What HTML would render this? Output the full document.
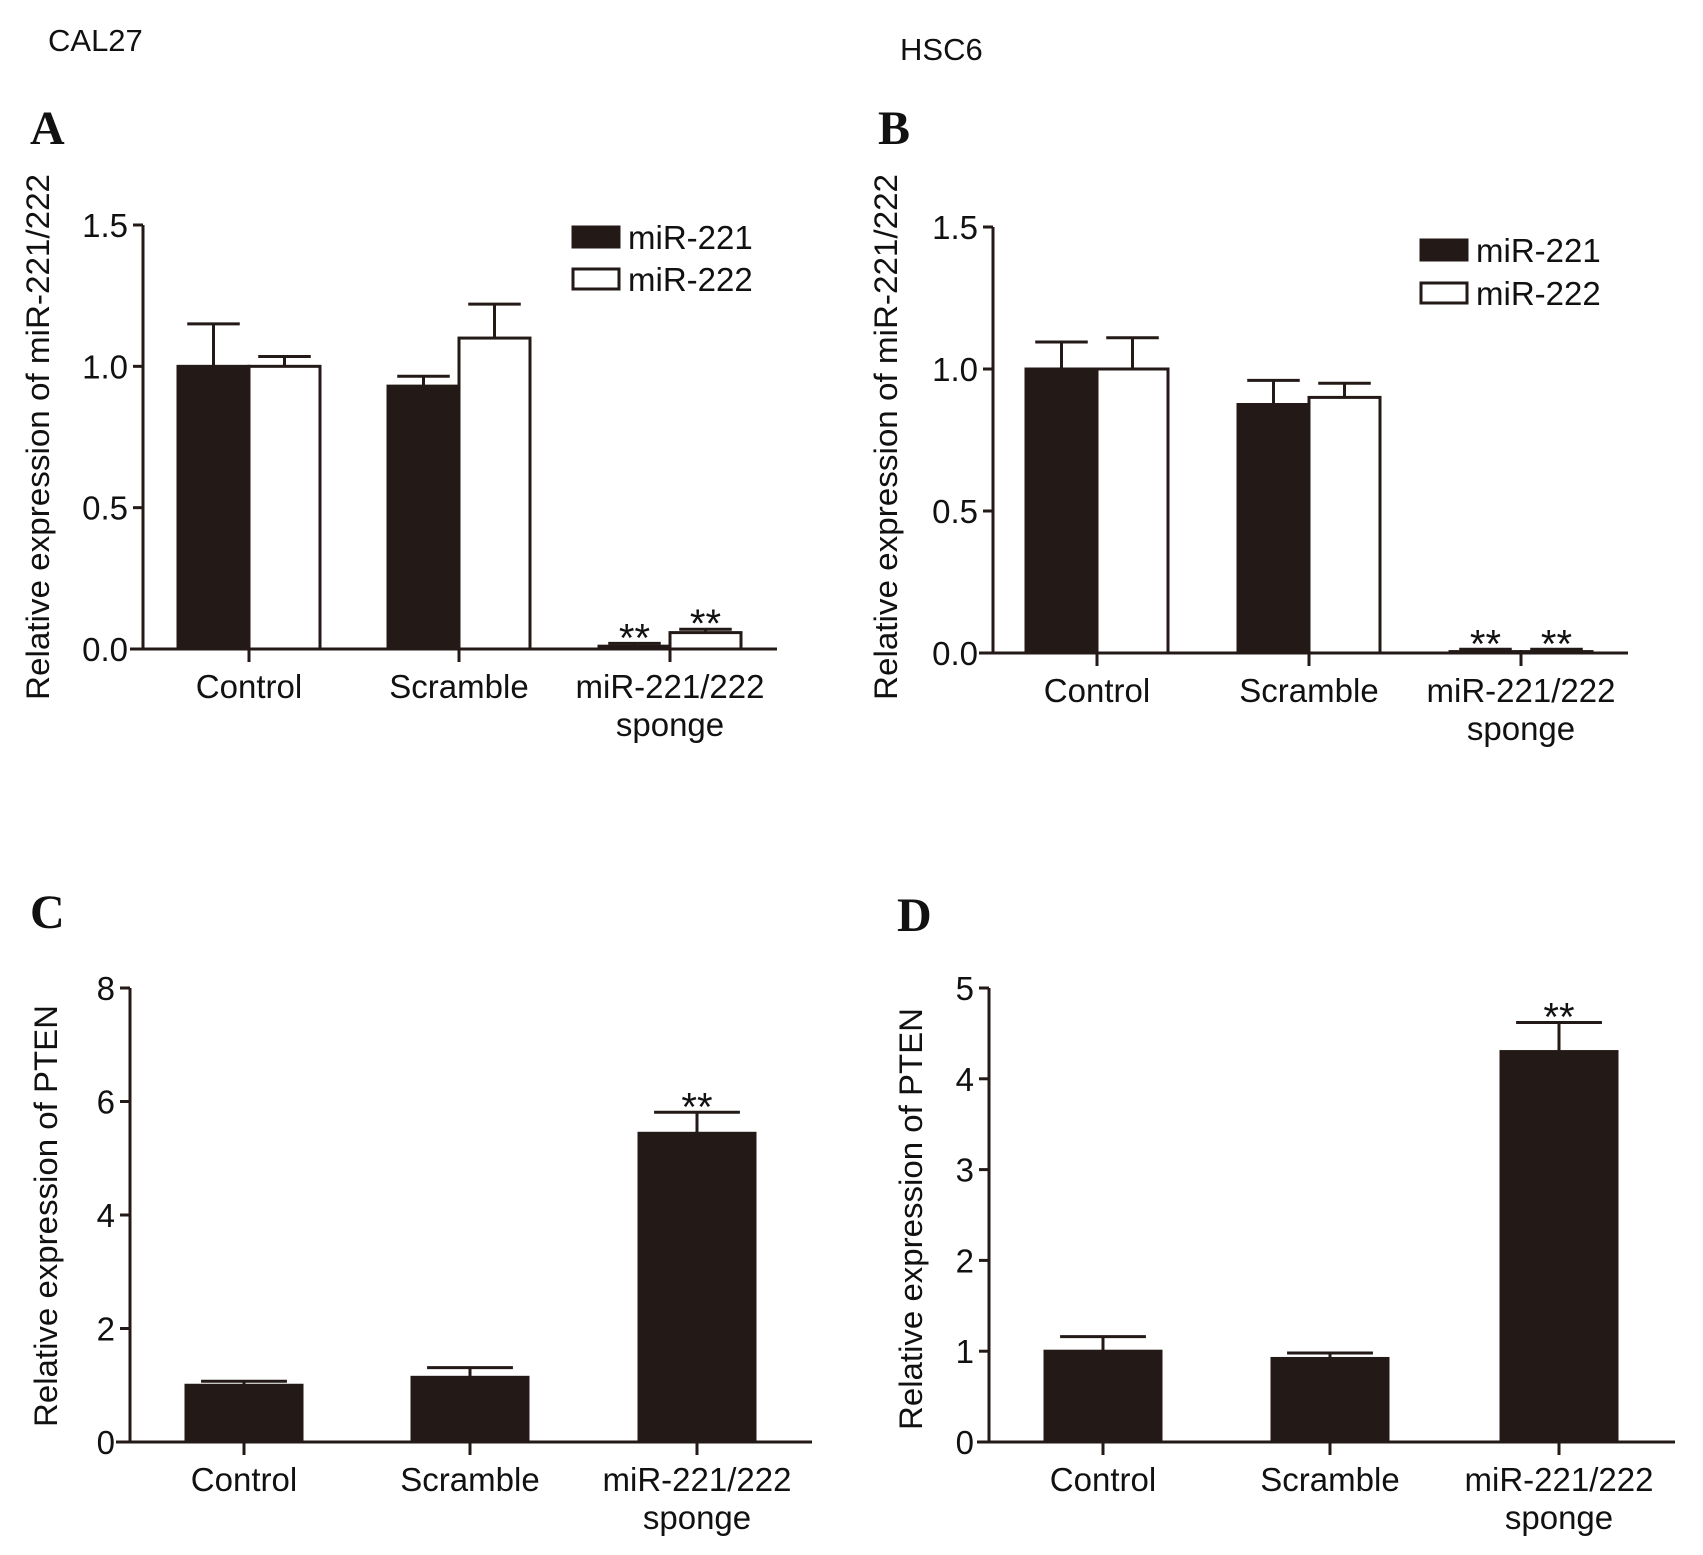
<!DOCTYPE html>
<html><head><meta charset="utf-8"><style>
html,body{margin:0;padding:0;background:#fff}
svg{display:block}
text{font-family:"Liberation Sans",Arial,sans-serif;fill:#111}
</style></head><body>
<svg id="fig" width="1703" height="1555" viewBox="0 0 1703 1555" xmlns="http://www.w3.org/2000/svg">
<text x="48" y="51" font-size="31">CAL27</text>
<text x="900" y="60" font-size="31">HSC6</text>
<text x="30" y="144" font-size="48" font-weight="bold" style="font-family:'Liberation Serif',serif">A</text>
<text x="878" y="144" font-size="48" font-weight="bold" style="font-family:'Liberation Serif',serif">B</text>
<text x="30" y="928" font-size="48" font-weight="bold" style="font-family:'Liberation Serif',serif">C</text>
<text x="897" y="931" font-size="48" font-weight="bold" style="font-family:'Liberation Serif',serif">D</text>
</svg>
<script>
const categories = ["Control", "Scramble", "miR-221/222|sponge"];
const seriesNames = ["miR-221", "miR-222"];
// Panel A (CAL27)
const a221 = [1.0, 0.93, 0.01];
const a221Err = [0.15, 0.035, 0.01];
const a222 = [1.0, 1.10, 0.058];
const a222Err = [0.035, 0.12, 0.012];
const aTicks = ["0.0", "0.5", "1.0", "1.5"];
const aTickVals = [0, 0.5, 1.0, 1.5];
const aSig = [false, false, true];
// Panel B (HSC6)
const b221 = [1.0, 0.875, 0.005];
const b221Err = [0.095, 0.085, 0.008];
const b222 = [1.0, 0.90, 0.005];
const b222Err = [0.11, 0.05, 0.008];
const bTicks = ["0.0", "0.5", "1.0", "1.5"];
const bTickVals = [0, 0.5, 1.0, 1.5];
const bSig = [false, false, true];
// Panel C (CAL27 PTEN)
const cVals = [1.0, 1.14, 5.44];
const cErr = [0.07, 0.17, 0.37];
const cTicks = ["0", "2", "4", "6", "8"];
const cTickVals = [0, 2, 4, 6, 8];
const cSig = [false, false, true];
// Panel D (HSC6 PTEN)
const dVals = [1.0, 0.92, 4.3];
const dErr = [0.16, 0.06, 0.32];
const dTicks = ["0", "1", "2", "3", "4", "5"];
const dTickVals = [0, 1, 2, 3, 4, 5];
const dSig = [false, false, true];

const svg = document.getElementById('fig');
const NS = 'http://www.w3.org/2000/svg';
const INK = '#231a17';
function el(tag, attrs, parent) {
  const e = document.createElementNS(NS, tag);
  for (const k in attrs) e.setAttribute(k, attrs[k]);
  (parent || svg).appendChild(e);
  return e;
}

function panel(cfg) {
  const g = el('g', {});
  
  
  const y = v => cfg.y0 - (v - 0) / cfg.vmax * (cfg.y0 - cfg.yTop);
  const ya = el('line', {x1: cfg.ax, y1: cfg.yTop, x2: cfg.ax, y2: cfg.y0, stroke: INK, 'stroke-width': 3}, g);
  
  
  cfg.tickVals.forEach((tv, i) => {
    const t = el('line', {x1: cfg.ax - 10, y1: y(tv), x2: cfg.ax, y2: y(tv), stroke: INK, 'stroke-width': 3}, g);
    
    
    const lb = el('text', {x: cfg.ax - 15, y: y(tv) + 12, 'font-size': 33, 'text-anchor': 'end'}, g);
    lb.textContent = cfg.ticks[i];
    
    
  });
  cfg.series.forEach((s, si) => {
    s.vals.forEach((v, ci) => {
      const x = cfg.groupX[ci] + s.offset;
      const top = y(v);
      const r = el('rect', {x: x, y: top, width: cfg.bw, height: cfg.y0 - top, fill: s.fill, stroke: INK, 'stroke-width': 3}, g);
      
      
      const cx = x + cfg.bw / 2, et = y(v + s.err[ci]);
      const e1 = el('line', {x1: cx, y1: top, x2: cx, y2: et, stroke: INK, 'stroke-width': 3}, g);
      
      
      const e2 = el('line', {x1: cx - cfg.bw * 0.37, y1: et, x2: cx + cfg.bw * 0.37, y2: et, stroke: INK, 'stroke-width': 3}, g);
      
      
      if (cfg.sig[ci]) {
        const st = el('text', {x: cx, y: et + 8, 'font-size': 40, 'text-anchor': 'middle'}, g);
        st.textContent = '**';
        
        
      }
    });
  });
  const xa = el('line', {x1: cfg.xStart, y1: cfg.y0, x2: cfg.xEnd, y2: cfg.y0, stroke: INK, 'stroke-width': 3}, g);
  
  
  categories.forEach((c, ci) => {
    const tx = cfg.tickX[ci];
    const t = el('line', {x1: tx, y1: cfg.y0, x2: tx, y2: cfg.y0 + 13, stroke: INK, 'stroke-width': 3}, g);
    
    
    c.split('|').forEach((ln, li) => {
      const lb = el('text', {x: tx, y: cfg.y0 + 49 + li * 38, 'font-size': 33, 'text-anchor': 'middle'}, g);
      lb.textContent = ln;
      
      
    });
  });
  const tt = el('text', {x: 0, y: 0, 'font-size': 32, 'text-anchor': 'middle', textLength: cfg.titleLen, lengthAdjust: 'spacingAndGlyphs',
    transform: 'translate(' + cfg.titleX + ',' + cfg.titleY + ') rotate(-90)'}, g);
  tt.textContent = cfg.title;
  
  
  if (cfg.legend) {
    seriesNames.forEach((n, i) => {
      const ly = cfg.legend.y + i * cfg.legend.dy;
      const b = el('rect', {x: cfg.legend.x, y: ly, width: 46, height: 20, fill: i === 0 ? INK : '#fff', stroke: INK, 'stroke-width': 3}, g);
      
      
      const t = el('text', {x: cfg.legend.x + 55, y: ly + 22, 'font-size': 33}, g);
      t.textContent = n;
      
      
    });
  }
}

panel({name: 'panel-a-chart', ax: 143, y0: 649, yTop: 225, vmax: 1.5, ticks: aTicks, tickVals: aTickVals,
  xStart: 130, xEnd: 777, tickX: [249, 459, 670], groupX: [249, 459, 670], bw: 71, sig: aSig,
  series: [{key: 'mir221', vals: a221, err: a221Err, fill: INK, offset: -71}, {key: 'mir222', vals: a222, err: a222Err, fill: '#fff', offset: 0}],
  title: 'Relative expression of miR-221/222', titleX: 49, titleY: 437, titleLen: 526,
  legend: {x: 573, y: 227, dy: 42}});
panel({name: 'panel-b-chart', ax: 993, y0: 653, yTop: 227, vmax: 1.5, ticks: bTicks, tickVals: bTickVals,
  xStart: 979, xEnd: 1628, tickX: [1097, 1309, 1521], groupX: [1097, 1309, 1521], bw: 71, sig: bSig,
  series: [{key: 'mir221', vals: b221, err: b221Err, fill: INK, offset: -71}, {key: 'mir222', vals: b222, err: b222Err, fill: '#fff', offset: 0}],
  title: 'Relative expression of miR-221/222', titleX: 897, titleY: 437, titleLen: 526,
  legend: {x: 1421, y: 240, dy: 43}});
panel({name: 'panel-c-chart', ax: 130, y0: 1442, yTop: 988, vmax: 8, ticks: cTicks, tickVals: cTickVals,
  xStart: 116, xEnd: 812, tickX: [244, 470, 697], groupX: [244, 470, 697], bw: 116, sig: cSig,
  series: [{key: 'pten', vals: cVals, err: cErr, fill: INK, offset: -58}],
  title: 'Relative expression of PTEN', titleX: 57, titleY: 1216, titleLen: 422});
panel({name: 'panel-d-chart', ax: 989, y0: 1442, yTop: 988, vmax: 5, ticks: dTicks, tickVals: dTickVals,
  xStart: 977, xEnd: 1675, tickX: [1103, 1330, 1559], groupX: [1103, 1330, 1559], bw: 116, sig: dSig,
  series: [{key: 'pten', vals: dVals, err: dErr, fill: INK, offset: -58}],
  title: 'Relative expression of PTEN', titleX: 922, titleY: 1219, titleLen: 422});
</script>
</body></html>
